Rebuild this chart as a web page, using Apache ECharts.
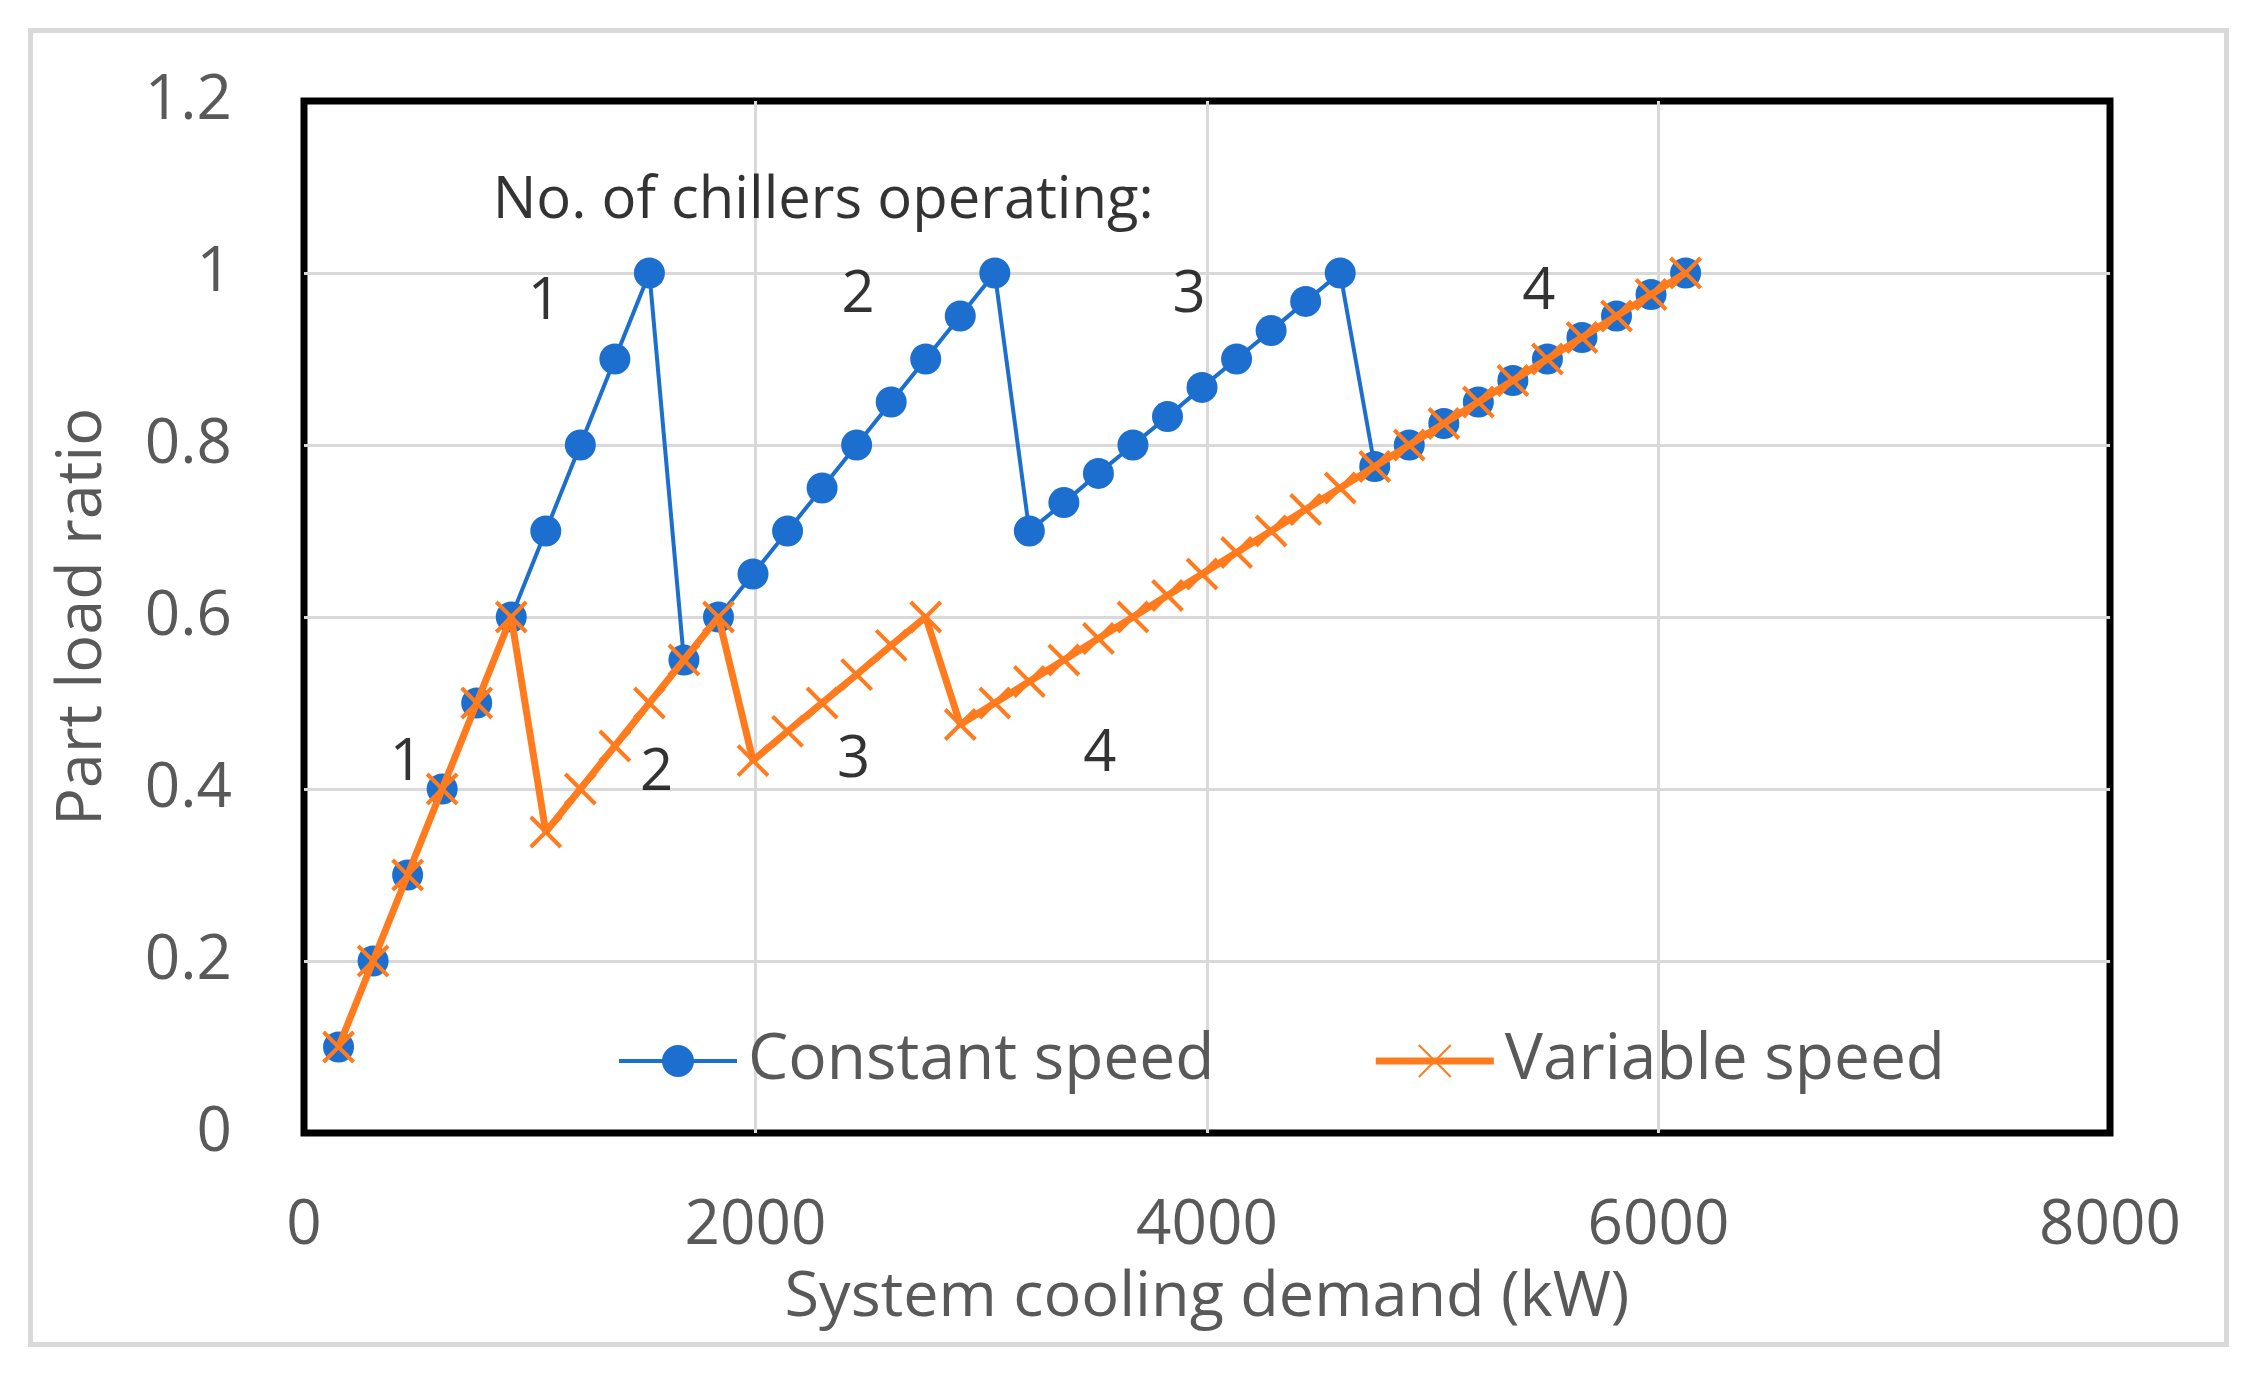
<!DOCTYPE html>
<html>
<head>
<meta charset="utf-8">
<script src="https://cdn.jsdelivr.net/npm/echarts@6/dist/echarts.min.js"></script>
<style>
html,body{margin:0;padding:0;background:#fff;}
#chart{width:2256px;height:1379px;}
</style>
</head>
<body>
<div id="chart"></div>
<script>
// System cooling demand (kW)
const demand = [153,306,459,612,765,918,1071,1224,1377,1530,1683,1836,1989,2142,2295,2448,2601,2754,2907,3060,3213,3366,3519,3672,3825,3978,4131,4284,4437,4590,4743,4896,5049,5202,5355,5508,5661,5814,5967,6120];
// Part load ratio, constant speed chillers
const constantSpeed = [0.1,0.2,0.3,0.4,0.5,0.6,0.7,0.8,0.9,1.0,0.55,0.6,0.65,0.7,0.75,0.8,0.85,0.9,0.95,1.0,0.7,0.733,0.767,0.8,0.833,0.867,0.9,0.933,0.967,1.0,0.775,0.8,0.825,0.85,0.875,0.9,0.925,0.95,0.975,1.0];
// Part load ratio, variable speed chillers
const variableSpeed = [0.1,0.2,0.3,0.4,0.5,0.6,0.35,0.4,0.45,0.5,0.55,0.6,0.433,0.467,0.5,0.533,0.567,0.6,0.475,0.5,0.525,0.55,0.575,0.6,0.625,0.65,0.675,0.7,0.725,0.75,0.775,0.8,0.825,0.85,0.875,0.9,0.925,0.95,0.975,1.0];
const seriesNames = ["Constant speed","Variable speed"];
// Annotation texts and their anchor positions (data units)
const noteTexts = ["No. of chillers operating:","1","2","3","4","1","2","3","4"];
const noteX = [2300,1065,2454,3921,5470,453,1562,2435,3525];
const noteY = [1.083,0.966,0.974,0.974,0.977,0.43,0.418,0.433,0.44];
const xTicks = {min:0,max:8000,interval:2000};
const yTicks = {min:0,max:1.2,interval:0.2};

const blue = '#1C6FCF';
const orange = '#FF7B1E';
const grey = '#595959';
const font = 'Open Sans';

const chart = echarts.init(document.getElementById('chart'));
const xSymbol = 'path://M0,0L10,10M10,0L0,10';

chart.setOption({
  backgroundColor:'#fff',
  animation:false,
  textStyle:{fontFamily:font},
  graphic:[{
    type:'rect', left:28, top:28, z:-10,
    shape:{width:2196, height:1314},
    style:{fill:'#fff', stroke:'#d9d9d9', lineWidth:5}
  }],
  grid:{left:304, right:146, top:101, bottom:246, show:true, borderColor:'#000', borderWidth:7, backgroundColor:'transparent'},
  legend:{
    data:seriesNames.map(n=>({name:n})),
    left:612, top:1024,
    itemWidth:118, itemHeight:40, itemGap:158,
    lineStyle:{width:'inherit'},
    textStyle:{fontFamily:font, fontSize:64, color:grey, padding:[0,0,0,6]}
  },
  xAxis:{
    type:'value', min:xTicks.min, max:xTicks.max, interval:xTicks.interval,
    name:'System cooling demand (kW)', nameLocation:'middle', nameGap:134,
    nameTextStyle:{fontFamily:font, fontSize:63, color:grey},
    axisLine:{show:false}, axisTick:{show:false},
    axisLabel:{fontFamily:font, fontSize:62, color:grey, margin:62, formatter:v=>String(v)},
    splitLine:{show:true, showMinLine:false, showMaxLine:false, lineStyle:{color:'#d9d9d9', width:3}}
  },
  yAxis:{
    type:'value', min:yTicks.min, max:yTicks.max, interval:yTicks.interval,
    name:'Part load ratio', nameLocation:'middle', nameGap:189,
    nameTextStyle:{fontFamily:font, fontSize:63, color:grey},
    axisLine:{show:false}, axisTick:{show:false},
    axisLabel:{fontFamily:font, fontSize:62, color:grey, margin:72, formatter:v=>String(Math.round(v*10)/10)},
    splitLine:{show:true, showMinLine:false, showMaxLine:false, lineStyle:{color:'#d9d9d9', width:3}}
  },
  series:[
    {
      name:seriesNames[0], type:'line',
      data:demand.map((d,i)=>[d,constantSpeed[i]]),
      symbol:'circle', symbolSize:31,
      lineStyle:{color:blue, width:4},
      itemStyle:{color:blue},
      z:2
    },
    {
      name:seriesNames[1], type:'line',
      data:demand.map((d,i)=>[d,variableSpeed[i]]),
      symbol:xSymbol, symbolSize:30,
      lineStyle:{color:orange, width:7},
      itemStyle:{color:orange, borderColor:orange, borderWidth:4},
      z:3
    },
    {
      name:'notes', type:'scatter',
      data:noteTexts.map((t,i)=>({name:t, value:[noteX[i],noteY[i]]})),
      symbolSize:1, itemStyle:{color:'rgba(0,0,0,0)'},
      silent:true, z:4,
      label:{show:true, position:'inside', formatter:p=>p.name, fontFamily:font, fontSize:58, color:'#000'}
    }
  ]
});
</script>
</body>
</html>
